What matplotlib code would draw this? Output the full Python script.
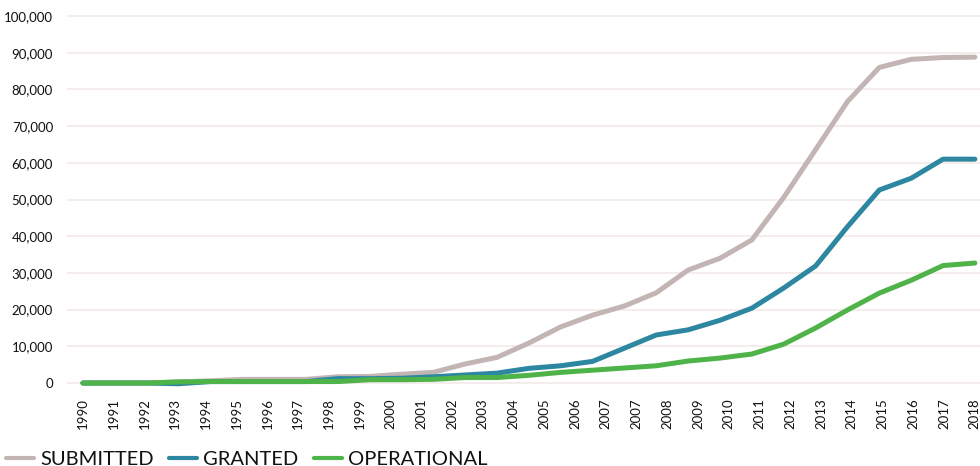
"""
Applications submitted, granted and operational, 1990-2018.
"""

import numpy as np
import matplotlib.pyplot as plt
from matplotlib.ticker import FuncFormatter


# -----------------------------
# Data
# -----------------------------

years = list(range(1990, 2019))

submitted = [0, 0, 0, 300, 600, 1000, 1000, 1000, 1700, 1800,
             2400, 2900, 5200, 7000, 10900, 15300, 18500, 21000, 24600, 30800,
             34000, 39000, 50600, 63600, 76700, 86000, 88200, 88700, 88800]

granted = [0, 0, 0, -200, 400, 400, 400, 400, 1200, 1200,
           1300, 1700, 2200, 2700, 4000, 4700, 5900, 9500, 13100, 14500,
           17100, 20400, 25900, 31900, 42600, 52600, 55800, 61000, 61000]

operational = [0, 0, 0, 300, 400, 400, 400, 400, 400, 900,
               900, 1000, 1500, 1500, 2100, 2900, 3500, 4100, 4700, 6000,
               6800, 7900, 10600, 15000, 19900, 24500, 28000, 32000, 32700]

# the source axis carries 30 labels (2007 appears twice)
tick_labels = [str(y) for y in range(1990, 2008)] + ["2007"] + \
              [str(y) for y in range(2008, 2019)]

series_names = ["SUBMITTED", "GRANTED", "OPERATIONAL"]
series_colors = ["#C4B5B5", "#2E87A1", "#4EB348"]


# -----------------------------
# Plot
# -----------------------------

def main():
    plt.rcParams["font.family"] = ["Lato", "DejaVu Sans"]

    fig = plt.figure(figsize=(9.8, 4.66), dpi=100)
    ax = fig.add_axes([67 / 980, 1 - 390 / 466, 913 / 980, 378 / 466])

    for values, name, color in zip([submitted, granted, operational],
                                   series_names, series_colors):
        ax.plot(years, values, color=color, lw=3.6, label=name,
                solid_capstyle="round", solid_joinstyle="round")

    ax.set_xlim(1989.5, 2018.16)
    ax.set_ylim(-1900, 101100)

    ax.set_yticks(np.arange(0, 100001, 10000))
    ax.yaxis.set_major_formatter(FuncFormatter(lambda v, p: f"{int(v):,}"))
    ax.grid(axis="y", color="#F2EAE8", lw=1.2)
    ax.set_axisbelow(True)

    ax.set_xticks(np.linspace(1990, 2018, len(tick_labels)))
    ax.set_xticklabels(tick_labels, rotation=90, va="top")

    ax.tick_params(axis="both", length=0, labelsize=9.5, colors="#111111")
    ax.tick_params(axis="y", pad=10)
    ax.tick_params(axis="x", pad=6)

    for side in ["top", "right", "left", "bottom"]:
        ax.spines[side].set_visible(False)

    leg = fig.legend(loc="lower left", bbox_to_anchor=(-0.006, -0.03), ncol=3,
                     frameon=False, fontsize=14.5, handlelength=1.4,
                     handletextpad=0.3, columnspacing=0.75, borderaxespad=0.2,
                     labelcolor="#111111")
    for line in leg.get_lines():
        line.set_linewidth(3.0)

    fig.savefig("out.png", dpi=100)


if __name__ == "__main__":
    main()
